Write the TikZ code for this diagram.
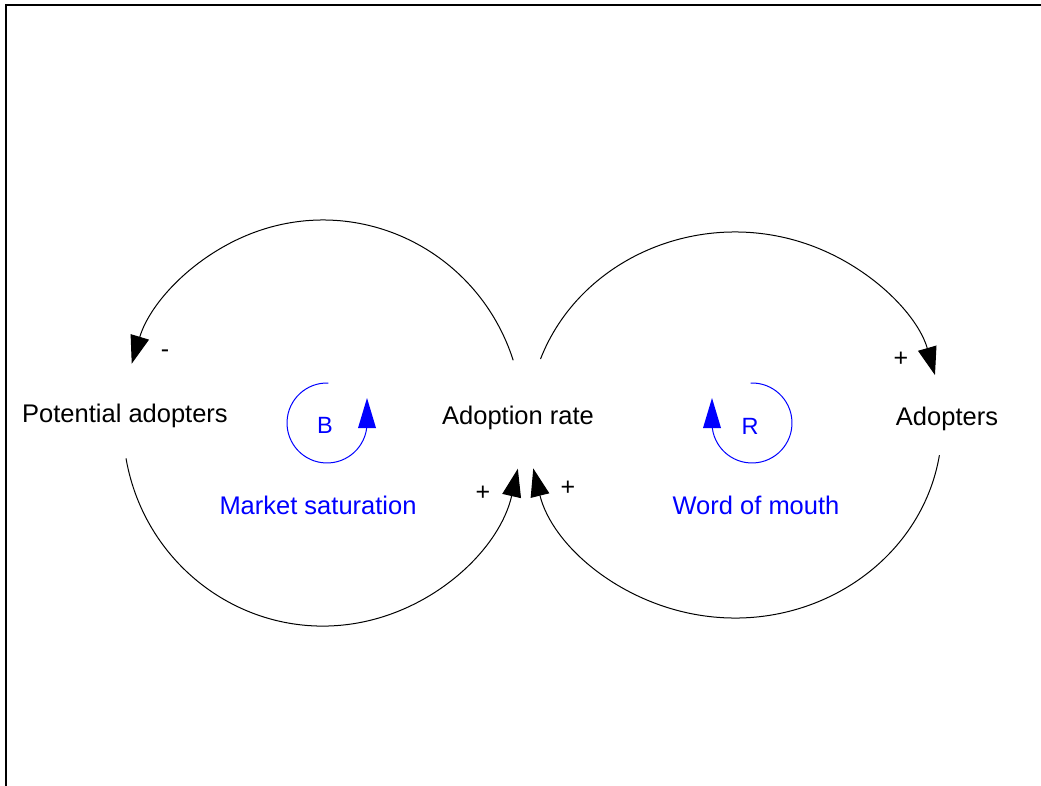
\documentclass[tikz,border=0pt]{standalone}
\usepackage{fontspec}
\setmainfont{Liberation Sans}
\usetikzlibrary{arrows.meta}
\begin{document}
\begin{tikzpicture}[x=1pt,y=1pt,
  lbl/.style={font=\fontsize{25.5}{30}\selectfont, anchor=base, inner sep=0pt},
  loopname/.style={lbl, text=blue},
  loopletter/.style={font=\fontsize{23.5}{28}\selectfont, anchor=base, inner sep=0pt, text=blue},
  sign/.style={font=\fontsize{25}{30}\selectfont, anchor=base, inner sep=0pt},
  link/.style={line width=1pt, -{Triangle[length=28pt,width=19pt]}},
  loopline/.style={draw=blue, line width=1pt},
  looptip/.style={fill=blue}]
\useasboundingbox (0,0) rectangle (1041,-785);
\draw[line width=2.8pt] (1041,-5) -- (6,-5) -- (6,-786);

% variables
\node[lbl] (pa) at (125,-422) {Potential adopters};
\node[lbl] (ar) at (518,-424) {Adoption rate};
\node[lbl] (ad) at (947,-425) {Adopters};

% loop names
\node[loopname] (ms) at (318,-514) {Market saturation};
\node[loopname] (wom) at (756,-514) {Word of mouth};

% arc end points
\coordinate (arTL) at (513.2,-360.3);
\coordinate (paB) at (126,-458.3);
\coordinate (arTR) at (540.5,-359);
\coordinate (adB) at (939.4,-455.2);

% left (balancing) loop
\draw[link] (arTL) arc[start angle=18, end angle=163, x radius=200, y radius=203];
\draw[link] (paB) arc[start angle=190, end angle=347, x radius=200, y radius=203];

% right (reinforcing) loop
\draw[link] (arTR) arc[start angle=160, end angle=15, x radius=207, y radius=193];
\draw[link] (adB) arc[start angle=-9, end angle=-167, x radius=207, y radius=193];

% polarity signs
\node[sign] (s1) at (165,-357) {-};
\node[sign] (s2) at (901,-366.8) {+};
\node[sign] (s3) at (483,-500.8) {+};
\node[sign] (s4) at (568,-495.8) {+};

% loop symbol B
\coordinate (bstart) at (328.4,-383);
\draw[loopline] (bstart) arc[start angle=88, end angle=358, radius=40];
\fill[looptip] (367,-398) -- (358,-428) -- (376,-428) -- cycle;
\node[loopletter] (bl) at (325,-433) {B};

% loop symbol R
\coordinate (rstart) at (750.6,-383);
\draw[loopline] (rstart) arc[start angle=92, end angle=-178, radius=40];
\fill[looptip] (712,-398) -- (703,-428) -- (721,-428) -- cycle;
\node[loopletter] (rl) at (750,-434) {R};
\end{tikzpicture}
\end{document}
